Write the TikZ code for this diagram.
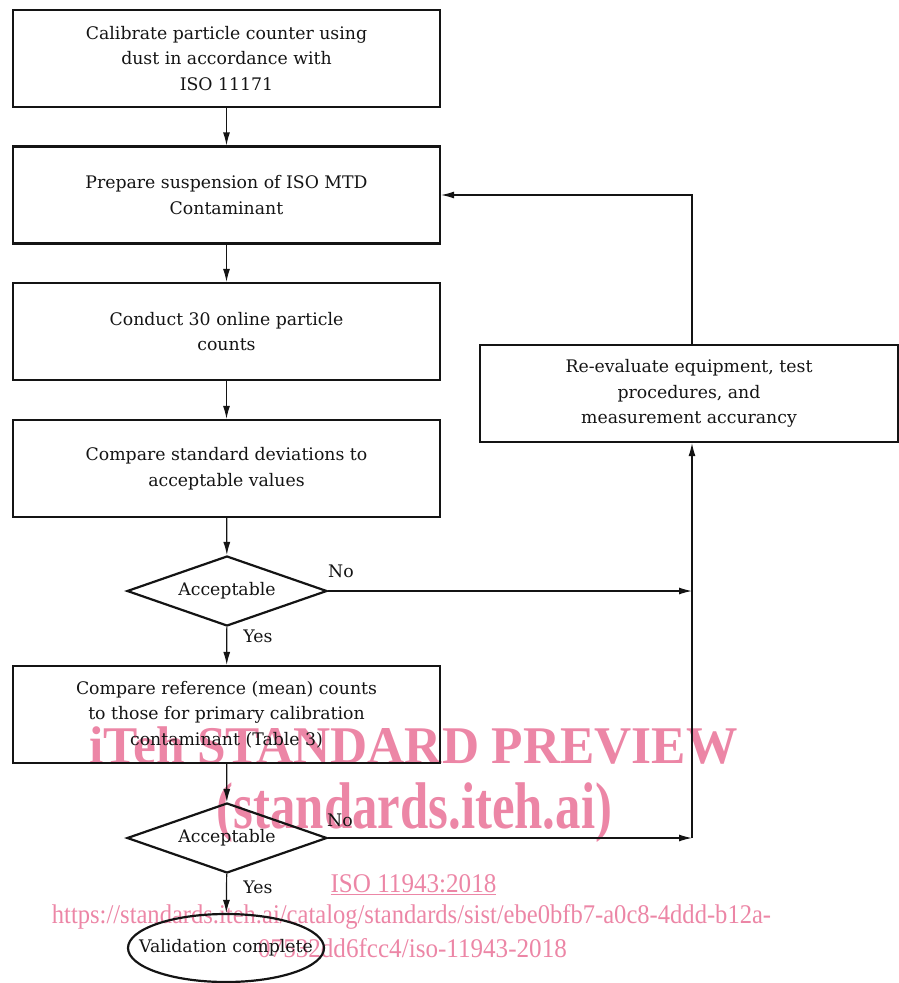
\documentclass[tikz,border=0pt]{standalone}
\usepackage{fontspec}
\usepackage{graphicx}
\setmainfont{DejaVu Serif}
\newfontfamily\wmfont{Liberation Serif}
\usetikzlibrary{shapes.geometric,arrows.meta}
\definecolor{ink}{RGB}{20,20,20}
\definecolor{wmpink}{RGB}{236,134,166}
\tikzset{
  txt/.style={text=ink, font=\fontsize{17.3}{25.5}\selectfont},
  box/.style={txt, draw=ink, line width=2.2pt, minimum width=427pt, minimum height=97pt,
    inner sep=0pt, align=center},
  decision/.style={draw=ink, line width=2.2pt, diamond, aspect=2.857, minimum width=200pt,
    minimum height=70pt, inner sep=0pt},
  terminal/.style={draw=ink, line width=2.2pt, ellipse, minimum width=196pt, minimum height=68pt,
    inner sep=0pt},
  flow/.style={draw=ink, line width=1.2pt, -{Latex[length=13pt,width=7pt]}},
  lbl/.style={txt, inner sep=0pt},
  wm/.style={text=wmpink, inner sep=0pt, anchor=base}
}
\begin{document}
\begin{tikzpicture}[x=1pt,y=-1pt]
\useasboundingbox (0,0) rectangle (898,983);
% watermark (behind)
\node[wm] (w1) at (413.5,763) {\scalebox{0.97}[1]{\wmfont\bfseries\fontsize{53}{53}\selectfont iTeh STANDARD PREVIEW}};
\node[wm] (w2) at (414.5,828) {\scalebox{0.77}[1]{\wmfont\bfseries\fontsize{66}{66}\selectfont (standards.iteh.ai)}};
\node[wm] (w3) at (413.5,892) {\scalebox{0.93}[1]{\wmfont\fontsize{27}{27}\selectfont \underline{ISO 11943:2018}}};
\node[wm] (w4) at (411.5,923) {\scalebox{0.91}[1]{\wmfont\fontsize{27}{27}\selectfont https://standards.iteh.ai/catalog/standards/sist/ebe0bfb7-a0c8-4ddd-b12a-}};
\node[wm] (w5) at (412.5,957) {\scalebox{0.93}[1]{\wmfont\fontsize{27}{27}\selectfont 07532dd6fcc4/iso-11943-2018}};
% boxes
\node[box] (b1) at (226.5,58.5) {Calibrate particle counter using\\dust in accordance with\\ISO 11171};
\node[box] (b2) at (226.5,195) {Prepare suspension of ISO MTD\\Contaminant};
\node[box] (b3) at (226.5,331.5) {Conduct 30 online particle\\counts};
\node[box] (b4) at (226.5,468.5) {Compare standard deviations to\\acceptable values};
\node[decision, label={[lbl]center:Acceptable}] (d1) at (227,591) {};
\node[box] (b5) at (226.5,714.5) {Compare reference (mean) counts\\to those for primary calibration\\contaminant (Table 3)};
\node[decision, label={[lbl]center:Acceptable}] (d2) at (227,838) {};
\node[terminal, label={[lbl]center:Validation complete}] (e1) at (226,948) {};
\node[box, minimum width=418pt] (re) at (689,393.5) {Re-evaluate equipment, test\\procedures, and\\measurement accurancy};
\coordinate (j1) at (692,591);
\coordinate (j2) at (692,838);
% connectors
\draw[flow] (b1) -- (b2);
\draw[flow] (b2) -- (b3);
\draw[flow] (b3) -- (b4);
\draw[flow] (b4) -- (d1);
\draw[flow] (d1) -- (b5);
\draw[flow] (b5) -- (d2);
\draw[flow] (d2) -- (e1);
\draw[flow] (d1.east) -- (j1);
\draw[flow] (d2.east) -- (j2);
\draw[flow] (j2) -- (re.south -| j2);
\draw[flow] (re.north -| j2) |- (b2.east);
% labels
\node[lbl] (n1) at (341,571) {No};
\node[lbl] (y1) at (258,636) {Yes};
\node[lbl] (n2) at (340,820) {No};
\node[lbl] (y2) at (258,887) {Yes};
\end{tikzpicture}
\end{document}
